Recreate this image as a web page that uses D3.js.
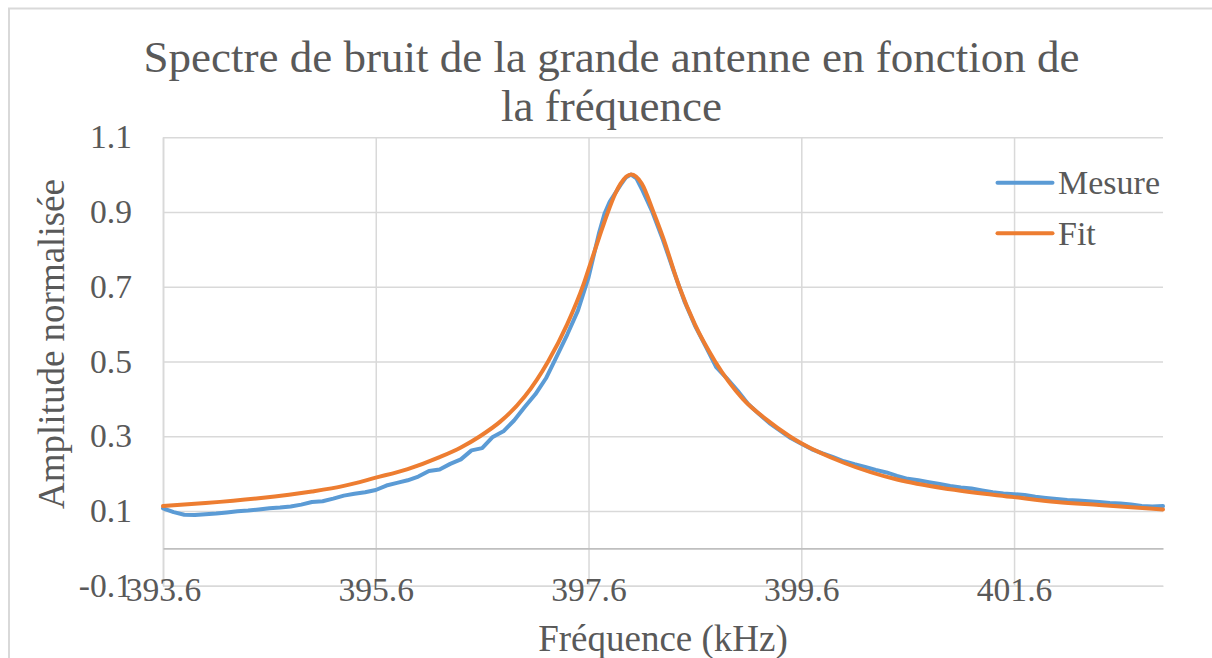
<!DOCTYPE html>
<html>
<head>
<meta charset="utf-8">
<script src="https://cdn.jsdelivr.net/npm/d3@7"></script>
<style>
  body { margin: 0; background: #fff; }
  svg { display: block; }
  text { font-family: "Liberation Serif", "Times New Roman", serif; fill: #595959; }
</style>
</head>
<body>
<svg id="chart" width="1212" height="658"></svg>
<script>
// ---- Chart text ----
const titleLines = ["Spectre de bruit de la grande antenne en fonction de", "la fréquence"];
const xAxisTitle = "Fréquence (kHz)";
const yAxisTitle = "Amplitude normalisée";
const seriesNames = ["Mesure", "Fit"];

// ---- Tick values and labels ----
const xTicks = [393.6, 395.6, 397.6, 399.6, 401.6];
const xTickLabels = ["393.6", "395.6", "397.6", "399.6", "401.6"];
const yTicks = [-0.1, 0.1, 0.3, 0.5, 0.7, 0.9, 1.1];
const yTickLabels = ["-0.1", "0.1", "0.3", "0.5", "0.7", "0.9", "1.1"];
const xDomain = [393.6, 403.0];
const yDomain = [-0.1, 1.1];

// ---- Measured spectrum (kHz, normalised amplitude) ----
const mesureFreq = [
  393.6, 393.7, 393.8, 393.9, 394.0, 394.1, 394.2, 394.3, 394.4, 394.5,
  394.6, 394.7, 394.8, 394.9, 395.0, 395.1, 395.2, 395.3, 395.4, 395.5,
  395.6, 395.7, 395.8, 395.9, 396.0, 396.1, 396.2, 396.3, 396.4, 396.5,
  396.6, 396.7, 396.8, 396.9, 397.0, 397.1, 397.2, 397.3, 397.4, 397.5,
  397.6, 397.7, 397.75, 397.8, 397.9, 397.95, 398.0, 398.05, 398.1, 398.2,
  398.3, 398.4, 398.5, 398.6, 398.7, 398.8, 398.9, 399.0, 399.1, 399.2,
  399.3, 399.4, 399.5, 399.6, 399.7, 399.8, 399.9, 400.0, 400.1, 400.2,
  400.3, 400.4, 400.5, 400.6, 400.7, 400.8, 400.9, 401.0, 401.1, 401.2,
  401.3, 401.4, 401.5, 401.6, 401.7, 401.8, 401.9, 402.0, 402.1, 402.2,
  402.3, 402.4, 402.5, 402.6, 402.7, 402.8, 402.9, 403.0
];
const mesureAmp = [
  0.107, 0.097, 0.090, 0.089, 0.091, 0.093, 0.096, 0.099, 0.101, 0.104,
  0.107, 0.109, 0.112, 0.117, 0.124, 0.126, 0.133, 0.141, 0.146, 0.150,
  0.156, 0.168, 0.175, 0.182, 0.192, 0.207, 0.211, 0.226, 0.238, 0.262,
  0.268, 0.298, 0.313, 0.342, 0.378, 0.412, 0.455, 0.513, 0.572, 0.636,
  0.725, 0.845, 0.895, 0.928, 0.972, 0.992, 1.000, 0.990, 0.962, 0.900,
  0.825, 0.742, 0.662, 0.596, 0.541, 0.485, 0.455, 0.422, 0.386, 0.360,
  0.335, 0.315, 0.295, 0.280, 0.265, 0.254, 0.244, 0.233, 0.225, 0.218,
  0.210, 0.203, 0.194, 0.186, 0.182, 0.177, 0.172, 0.167, 0.163, 0.160,
  0.155, 0.150, 0.147, 0.145, 0.143, 0.138, 0.135, 0.132, 0.129, 0.128,
  0.126, 0.124, 0.121, 0.120, 0.117, 0.113, 0.112, 0.113
];

// ---- Fitted resonance curve ----
const fitFreq = [
  393.6, 394.0, 394.5, 395.0, 395.3, 395.6, 395.9, 396.2, 396.4, 396.58,
  396.77, 397.0, 397.22, 397.4, 397.55, 397.62, 397.7, 397.78, 397.85, 397.9,
  398.0, 398.1, 398.21, 398.3, 398.45, 398.6, 398.79, 399.05, 399.27, 399.49,
  399.6, 400.0, 400.5, 401.0, 401.6, 402.0, 402.4, 402.7, 403.0
];
const fitAmp = [
  0.113, 0.121, 0.134, 0.152, 0.167, 0.189, 0.212, 0.244, 0.270, 0.300,
  0.339, 0.406, 0.500, 0.600, 0.704, 0.764, 0.832, 0.898, 0.948, 0.975,
  1.000, 0.976, 0.900, 0.832, 0.702, 0.599, 0.500, 0.400, 0.345, 0.300,
  0.281, 0.229, 0.184, 0.158, 0.137, 0.124, 0.116, 0.110, 0.104
];

// ---- Layout ----
const plot = { left: 163, right: 1163, top: 137.2, bottom: 585.7 };
const colors = { mesure: "#5B9BD5", fit: "#ED7D31", grid: "#D9D9D9", axis: "#BFBFBF", text: "#595959" };

const svg = d3.select("#chart");

// chart frame
svg.append("path")
  .attr("d", "M9,658 V8.5 H1212")
  .attr("fill", "none")
  .attr("stroke", "#D9D9D9")
  .attr("stroke-width", 2);

const x = d3.scaleLinear().domain(xDomain).range([plot.left, plot.right]);
const y = d3.scaleLinear().domain(yDomain).range([plot.bottom, plot.top]);

// horizontal gridlines + value labels
const yAxis = d3.axisLeft(y)
  .tickValues(yTicks)
  .tickFormat((d, i) => yTickLabels[i])
  .tickSize(-(plot.right - plot.left))
  .tickSizeOuter(0)
  .tickPadding(31);
const gy = svg.append("g").attr("transform", `translate(${plot.left},0)`).call(yAxis);
gy.attr("font-family", null).attr("font-size", null);
gy.select(".domain").attr("stroke", "#D0D0D0").attr("stroke-width", 1.5);
gy.selectAll(".tick line").attr("stroke", colors.grid).attr("stroke-width", 1.5);
gy.selectAll(".tick text").attr("font-size", 33.6).attr("fill", colors.text);

// vertical gridlines + frequency labels
const xAxis = d3.axisBottom(x)
  .tickValues(xTicks)
  .tickFormat((d, i) => xTickLabels[i])
  .tickSize(-(plot.bottom - plot.top))
  .tickSizeOuter(0);
const gx = svg.append("g").attr("transform", `translate(0,${plot.bottom})`).call(xAxis);
gx.attr("font-family", null).attr("font-size", null);
gx.select(".domain").attr("stroke", colors.grid).attr("stroke-width", 1.5);
gx.selectAll(".tick line").attr("stroke", colors.grid).attr("stroke-width", 1.5);
gx.selectAll(".tick text").attr("font-size", 33.6).attr("fill", colors.text)
  .attr("y", 15).attr("dy", null);

// horizontal axis line crossing at zero
const zeroAxis = d3.axisBottom(x).tickValues([]).tickSizeOuter(0);
const gz = svg.append("g").attr("transform", `translate(0,${y(0)})`).call(zeroAxis);
gz.select(".domain").attr("stroke", colors.axis).attr("stroke-width", 1.7);

// series
const mesure = mesureFreq.map((f, i) => ({ f, a: mesureAmp[i] }));
const fit = fitFreq.map((f, i) => ({ f, a: fitAmp[i] }));

const lineMesure = d3.line().x(d => x(d.f)).y(d => y(d.a)).curve(d3.curveLinear);
const lineFit = d3.line().x(d => x(d.f)).y(d => y(d.a)).curve(d3.curveMonotoneX);

svg.append("path").datum(mesure)
  .attr("d", lineMesure)
  .attr("fill", "none").attr("stroke", colors.mesure).attr("stroke-width", 4)
  .attr("stroke-linejoin", "round").attr("stroke-linecap", "round");

svg.append("path").datum(fit)
  .attr("d", lineFit)
  .attr("fill", "none").attr("stroke", colors.fit).attr("stroke-width", 4)
  .attr("stroke-linejoin", "round").attr("stroke-linecap", "round");

// legend
const legend = svg.append("g");
const legendRows = [
  { name: seriesNames[0], color: colors.mesure, y: 182.7 },
  { name: seriesNames[1], color: colors.fit, y: 233.3 }
];
legendRows.forEach(r => {
  legend.append("line")
    .attr("x1", 997.5).attr("x2", 1052.5).attr("y1", r.y).attr("y2", r.y)
    .attr("stroke", r.color).attr("stroke-width", 4).attr("stroke-linecap", "round");
  legend.append("text")
    .attr("x", 1058).attr("y", r.y + 11.2)
    .attr("font-size", 34)
    .text(r.name);
});

// titles
svg.append("g").selectAll("text").data(titleLines).join("text")
  .attr("x", 611.5).attr("y", (d, i) => 72 + i * 49)
  .attr("text-anchor", "middle")
  .attr("font-size", 45)
  .text(d => d);

svg.append("text")
  .attr("x", (plot.left + plot.right) / 2).attr("y", 651)
  .attr("text-anchor", "middle")
  .attr("font-size", 37)
  .text(xAxisTitle);

svg.append("text")
  .attr("transform", "translate(63.6,344) rotate(-90)")
  .attr("text-anchor", "middle")
  .attr("font-size", 37)
  .text(yAxisTitle);
</script>
</body>
</html>
